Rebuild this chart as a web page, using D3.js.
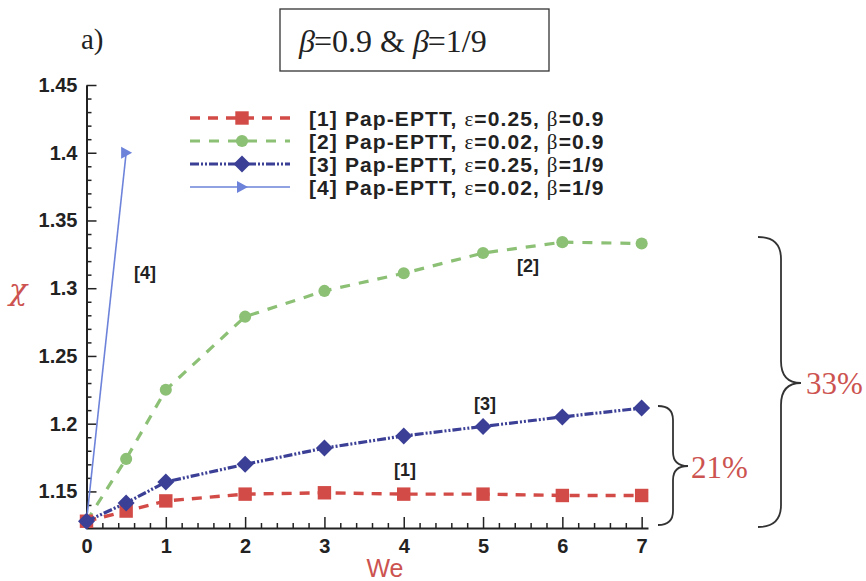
<!DOCTYPE html>
<html><head><meta charset="utf-8">
<script src="https://cdn.jsdelivr.net/npm/d3@7"></script>
<style>body{margin:0;background:#fff}svg{display:block}</style>
</head><body>
<svg id="chart" width="866" height="581"></svg>
<script>
// Weissenberg numbers and χ values for each run
const weAll = [0, 0.5, 1, 2, 3, 4, 5, 6, 7];
const chi1 = [1.128, 1.1355, 1.143, 1.148, 1.149, 1.148, 1.148, 1.147, 1.147];
const chi2 = [1.128, 1.174, 1.225, 1.279, 1.298, 1.311, 1.326, 1.334, 1.333];
const chi3 = [1.128, 1.1415, 1.157, 1.170, 1.182, 1.191, 1.198, 1.205, 1.2115];
const we4 = [0, 0.5];
const chi4 = [1.128, 1.400];

const seriesNames = [
  ["[1] Pap-EPTT, ", "0.25", "0.9"],
  ["[2] Pap-EPTT, ", "0.02", "0.9"],
  ["[3] Pap-EPTT, ", "0.25", "1/9"],
  ["[4] Pap-EPTT, ", "0.02", "1/9"]
];
const curveTags = ["[1]", "[2]", "[3]", "[4]"];
const xTickValues = [0, 1, 2, 3, 4, 5, 6, 7];
const yTickValues = [1.15, 1.2, 1.25, 1.3, 1.35, 1.4, 1.45];
const yTickLabels = ["1.15", "1.2", "1.25", "1.3", "1.35", "1.4", "1.45"];
const spreadLabels = ["33%", "21%"];

const SANS = "'Liberation Sans', Arial, sans-serif";
const SERIF = "'Liberation Serif', 'Times New Roman', serif";
const RED_TXT = "#cc5350";

const svg = d3.select("#chart");
const x = d3.scaleLinear().domain([0, 7.08]).range([86.5, 648]);
const y = d3.scaleLinear().domain([1.123, 1.45]).range([528, 85]);

// ---- axes (ticks point into the plot) ----
const axisG = svg.append("g").attr("class", "axes");
const yMinor = d3.range(1.13, 1.4501, 0.01).filter(v => !yTickValues.some(t => Math.abs(t - v) < 1e-6));
const xMinor = d3.range(0.2, 7.001, 0.2).filter(v => Math.abs(v - Math.round(v)) > 1e-6);

const gyMinor = axisG.append("g").attr("transform", `translate(${x(0)},0)`)
  .call(d3.axisLeft(y).tickValues(yMinor).tickSize(-5).tickFormat(""));
gyMinor.select(".domain").remove();
const gy = axisG.append("g").attr("transform", `translate(${x(0)},0)`)
  .call(d3.axisLeft(y).tickValues(yTickValues).tickSizeInner(-10).tickSizeOuter(0).tickPadding(9)
    .tickFormat((d, i) => yTickLabels[i]));
const gxMinor = axisG.append("g").attr("transform", `translate(0,${y(1.123)})`)
  .call(d3.axisBottom(x).tickValues(xMinor).tickSize(-5).tickFormat(""));
gxMinor.select(".domain").remove();
const gx = axisG.append("g").attr("transform", `translate(0,${y(1.123)})`)
  .call(d3.axisBottom(x).tickValues(xTickValues).tickSizeInner(-11).tickSizeOuter(0).tickPadding(6)
    .tickFormat(d3.format("d")));

axisG.selectAll(".domain").attr("stroke", "#222").attr("stroke-width", 2);
axisG.selectAll(".tick line").attr("stroke", "#222").attr("stroke-width", 1.5);
axisG.selectAll(".tick text").attr("fill", "#222").style("font-family", SANS)
  .style("font-weight", "bold").style("font-size", "20px");
gx.selectAll(".tick text").attr("dy", "0.95em");

// axis titles
svg.append("text").attr("x", 385).attr("y", 577).attr("text-anchor", "middle")
  .attr("fill", RED_TXT).style("font-family", SANS).style("font-size", "25px").text("We");
svg.append("text").attr("x", 18).attr("y", 300).attr("text-anchor", "middle")
  .attr("fill", RED_TXT).style("font-family", "'DejaVu Serif', serif").style("font-style", "italic")
  .style("font-size", "30px").text("χ");

// ---- series ----
const series = [
  { we: we4, chi: chi4, color: "#6d83da", width: 1.6, dash: null, marker: "tri" },
  { we: weAll, chi: chi2, color: "#8cc075", width: 3.2, dash: "10,9", marker: "circle" },
  { we: weAll, chi: chi1, color: "#d24b47", width: 3.4, dash: "10,8", marker: "square" },
  { we: weAll, chi: chi3, color: "#3b3f96", width: 3.2, dash: "9,2,2,2,2,2", marker: "diamond" }
];
const symbolPath = {
  square: d3.symbol(d3.symbolSquare, 180)(),
  circle: d3.symbol(d3.symbolCircle, 115)(),
  diamond: "M0,-8.5L8.5,0L0,8.5L-8.5,0Z",
  tri: "M6,0L-5,-6L-5,6Z"
};
const line = d3.line().x(d => x(d[0])).y(d => y(d[1]));
const plotG = svg.append("g");
series.forEach(s => {
  const pts = s.we.map((w, i) => [w, s.chi[i]]);
  plotG.append("path").attr("d", line(pts)).attr("fill", "none")
    .attr("stroke", s.color).attr("stroke-width", s.width)
    .attr("stroke-dasharray", s.dash);
  plotG.selectAll(null).data(pts).enter().append("path")
    .attr("d", symbolPath[s.marker])
    .attr("transform", d => `translate(${x(d[0])},${y(d[1])})`)
    .attr("fill", s.color);
});

// inline curve tags
const tagPos = [[405, 476], [528, 272], [485, 410], [145, 279]];
curveTags.forEach((t, i) => {
  svg.append("text").attr("x", tagPos[i][0]).attr("y", tagPos[i][1]).attr("text-anchor", "middle")
    .attr("fill", "#222").style("font-family", SANS).style("font-weight", "bold")
    .style("font-size", "18px").text(t);
});

// ---- legend ----
const legendOrder = [2, 1, 3, 0];
const legG = svg.append("g");
legendOrder.forEach((si, row) => {
  const s = series[si];
  const ly = 118 + row * 23;
  legG.append("line").attr("x1", 190).attr("x2", 290).attr("y1", ly).attr("y2", ly)
    .attr("stroke", s.color).attr("stroke-width", s.width).attr("stroke-dasharray", s.dash);
  legG.append("path").attr("d", symbolPath[s.marker])
    .attr("transform", `translate(242,${ly})`).attr("fill", s.color);
  const nm = seriesNames[row];
  const t = legG.append("text").attr("x", 309).attr("y", ly + 7.5).attr("fill", "#222")
    .style("font-family", SANS).style("font-weight", "bold").style("font-size", "21px")
    .style("letter-spacing", "1.1px");
  t.append("tspan").text(nm[0]);
  t.append("tspan").style("font-family", SERIF).style("font-weight", "normal").text("ε");
  t.append("tspan").text("=" + nm[1] + ", ");
  t.append("tspan").style("font-family", SERIF).style("font-weight", "normal").text("β");
  t.append("tspan").text("=" + nm[2]);
});

// ---- panel label and title box ----
svg.append("text").attr("x", 81).attr("y", 49).attr("fill", "#222")
  .style("font-family", SERIF).style("font-size", "29px").text("a)");
svg.append("rect").attr("x", 280).attr("y", 9).attr("width", 269).attr("height", 62)
  .attr("fill", "none").attr("stroke", "#333").attr("stroke-width", 1.3);
const title = svg.append("text").attr("x", 299).attr("y", 52).attr("fill", "#222")
  .style("font-family", SERIF).style("font-size", "32px");
title.append("tspan").style("font-style", "italic").text("β");
title.append("tspan").attr("dx", -1).text("=0.9 & ");
title.append("tspan").style("font-style", "italic").text("β");
title.append("tspan").attr("dx", -1).text("=1/9");

// ---- braces marking the spread at We = 7 ----
function brace(xEnd, xSpine, xTip, yTop, yBot, yMid, r) {
  return `M${xEnd},${yTop} Q${xSpine},${yTop} ${xSpine},${yTop + r}` +
    ` L${xSpine},${yMid - r} Q${xSpine},${yMid} ${xTip},${yMid}` +
    ` Q${xSpine},${yMid} ${xSpine},${yMid + r}` +
    ` L${xSpine},${yBot - r} Q${xSpine},${yBot} ${xEnd},${yBot}`;
}
svg.append("path").attr("d", brace(758, 781, 801, 237, 527, 383, 22))
  .attr("fill", "none").attr("stroke", "#333").attr("stroke-width", 1.8);
svg.append("path").attr("d", brace(658, 673, 688, 406, 525, 466, 14))
  .attr("fill", "none").attr("stroke", "#333").attr("stroke-width", 1.8);
svg.append("text").attr("x", 806).attr("y", 394).attr("fill", RED_TXT)
  .style("font-family", SERIF).style("font-size", "31px").text(spreadLabels[0]);
svg.append("text").attr("x", 691).attr("y", 478).attr("fill", RED_TXT)
  .style("font-family", SERIF).style("font-size", "31px").text(spreadLabels[1]);
</script>
</body></html>
